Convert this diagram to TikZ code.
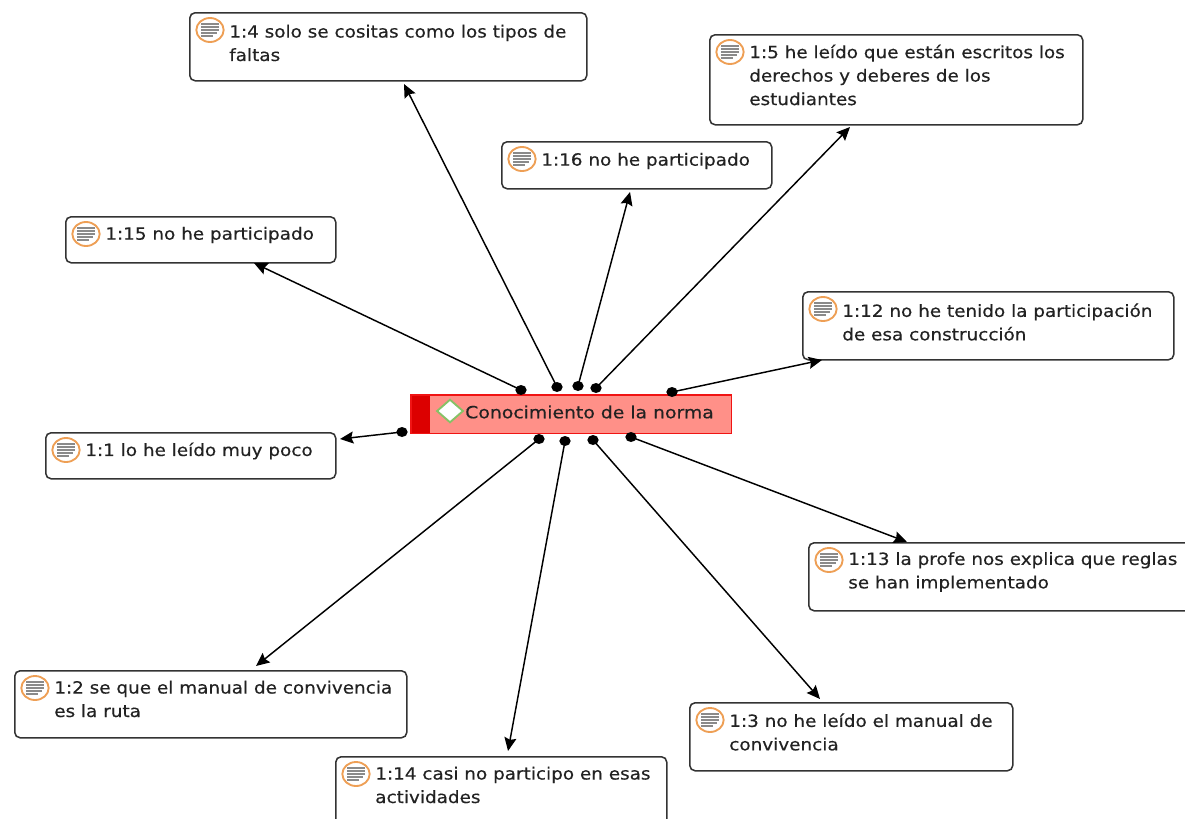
\documentclass[tikz,border=0pt]{standalone}
\usepackage{fontspec}
\setmainfont{DejaVu Sans}
\newfontfamily\quotefont[FakeStretch=1.095,FakeBold=0.35]{DejaVu Sans}
\newfontfamily\hubfont[FakeStretch=1.12,FakeBold=0.35]{DejaVu Sans}
\usetikzlibrary{arrows.meta,shapes.geometric}
\definecolor{inkc}{HTML}{222222}
\definecolor{iconor}{HTML}{EE9F55}
\definecolor{icongr}{HTML}{8A8A8A}
\definecolor{hubfill}{HTML}{FF9088}
\definecolor{hubline}{HTML}{F01414}
\definecolor{hubside}{HTML}{DC0000}
\definecolor{markg}{HTML}{86C266}
\tikzset{
  x=0.75pt,y=-0.75pt,
  quotebox/.style={draw=black!80,line width=1.15pt,rounded corners=4pt,fill=white,inner sep=0pt},
  quotetext/.style={anchor=west,inner sep=0pt,align=left,text=inkc,font=\quotefont\fontsize{12.6pt}{17.6pt}\selectfont},
  hub/.style={fill=hubfill,inner sep=0pt},
  hubbar/.style={fill=hubside,inner sep=0pt},
  enddot/.style={ellipse,fill=black,inner sep=0pt,minimum width=8.5pt,minimum height=7.5pt},
  conn/.style={draw=black,line width=1.1pt,-{Stealth[length=10pt,width=9pt,inset=1.5pt]}},
  qicon/.style={ellipse,draw=iconor,line width=1.4pt,fill=white,minimum width=20.5pt,minimum height=18pt,inner sep=0pt},
}
\newcommand{\quoteentry}[7]{% name x1 y1 x2 y2 midy text
  \node[quotebox,minimum width=#4*0.75pt-#2*0.75pt,minimum height=#5*0.75pt-#3*0.75pt,anchor=north west] (#1) at (#2,#3) {};
  \node[qicon] (#1i) at (#2+21,#3+18) {};
  \foreach \dy/\w in {-6/9,-3/9,0/9,3/7,6/3}{
    \draw[icongr,line width=0.9pt] (#2+21-9,#3+18+\dy) -- (#2+21+\w,#3+18+\dy);
  }
  \node[quotetext] (#1t) at (#2+40,#6) {#7};
}
\begin{document}
\begin{tikzpicture}
\useasboundingbox (0,0) rectangle (1185,818);
\clip (0,0) rectangle (1185,818);
\fill[white] (0,0) rectangle (1185,818);

\quoteentry{q4}{189}{12}{586}{80}{43}{1:4 solo se cositas como los tipos de\\faltas}
\quoteentry{q5}{709}{34}{1082}{124}{75}{1:5 he leído que están escritos los\\derechos y deberes de los\\estudiantes}
\quoteentry{q16}{501}{141}{771}{188}{161}{1:16 no he participado}
\quoteentry{q15}{65}{216}{335}{262}{235}{1:15 no he participado}
\quoteentry{q12}{802}{291}{1173}{359}{322}{1:12 no he tenido la participación\\de esa construcción}
\quoteentry{q1}{45}{432}{335}{478}{451}{1:1 lo he leído muy poco}
\quoteentry{q13}{808}{542}{1195}{610}{572}{1:13 la profe nos explica que reglas\\se han implementado}
\quoteentry{q2}{14}{670}{406}{737}{699}{1:2 se que el manual de convivencia\\es la ruta}
\quoteentry{q14}{335}{756}{666}{830}{785}{1:14 casi no participo en esas\\actividades}
\quoteentry{q3}{689}{702}{1012}{770}{732}{1:3 no he leído el manual de\\convivencia}

\node[hub,minimum width=240pt,minimum height=28.5pt,anchor=north west] (hubbox) at (411,395) {};
\node[hubbar,minimum width=14pt,minimum height=28.5pt,anchor=north west] (hubsidebar) at (411,395) {};
\draw[hubline,line width=1.1pt] (hubbox.north west) rectangle (hubbox.south east);
\node[diamond,draw=markg,line width=1.4pt,fill=white,minimum width=20pt,minimum height=17.5pt,inner sep=0pt] (hubmark) at (450,411) {};
\node[anchor=west,inner sep=0pt,text=inkc,font=\hubfont\fontsize{12.6pt}{14pt}\selectfont] (hubtext) at (465,412) {Conocimiento de la norma};

\foreach \n/\dx/\dy/\tx/\ty in {
 4/557/387/404/84,
 5/596/388/850/127,
 16/578/386/630/192,
 15/521/390/254/263,
 12/672/392/822/360,
 1/402/432/340/439,
 13/631/437/907/542,
 2/539/439/256/666,
 14/565/441/508/751,
 3/593/440/820/699}{
  \node[enddot] (d\n) at (\dx,\dy) {};
  \coordinate (t\n) at (\tx,\ty);
  \draw[conn] (d\n.center) -- (t\n);
}
\end{tikzpicture}
\end{document}
